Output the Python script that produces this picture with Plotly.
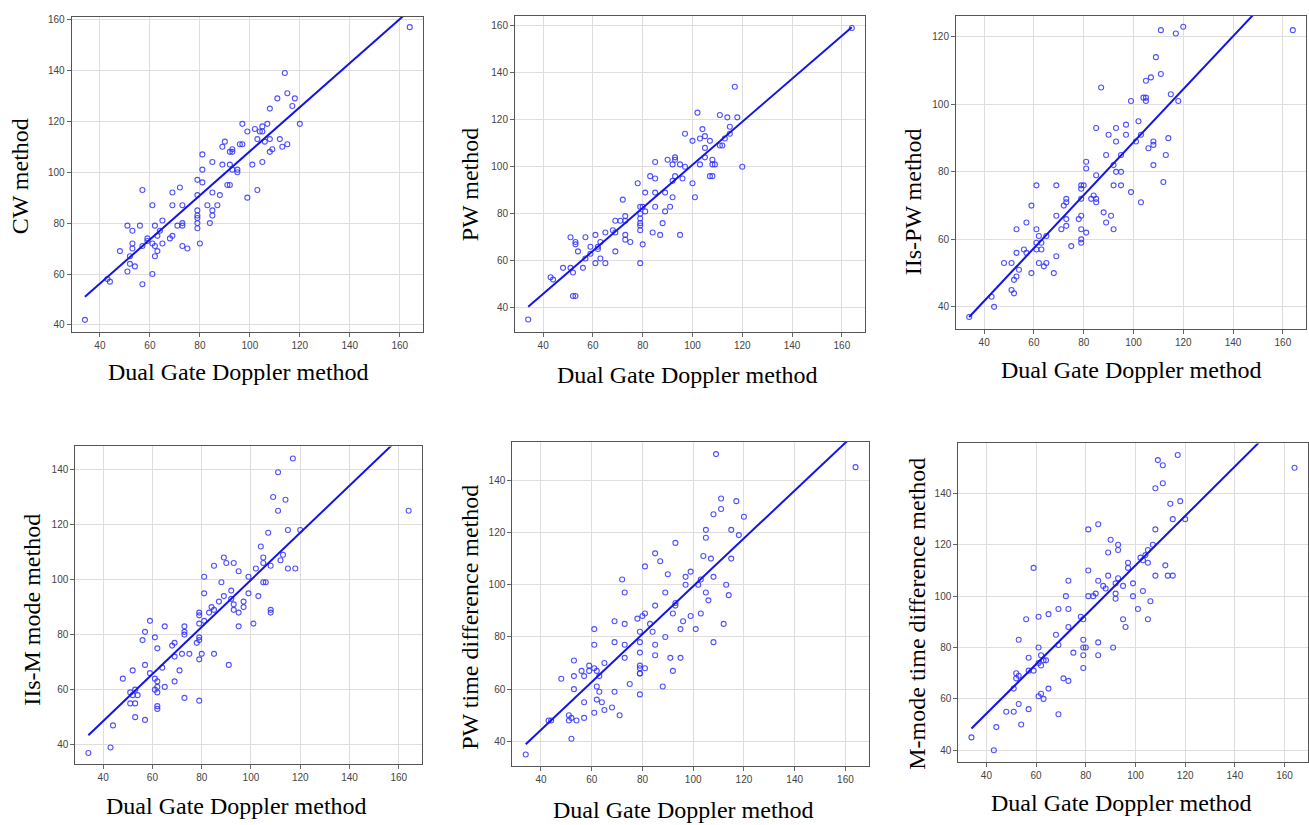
import plotly.graph_objects as go

W, H = 1309, 825

# ---------------- data ----------------
cw_x = [34,164,114,115,118,111,117,108,120,97,107,99,102,104,105,105,103,108,112,106,96,97,115,113,90,89,93,92,93,109,108,81,85,105,89,92,101,81,95,95,93,79,81,91,92,72,57,103,69,85,79,88,99,61,69,73,83,87,79,85,79,85,79,65,73,79,84,51,56,62,71,73,79,53,64,69,63,68,59,59,53,61,65,80,57,62,73,53,75,48,63,52,62,52,54,51,61,43,44,57]
cw_y = [42,157,139,131,129,129,126,125,119,119,119,116,117,116,118,116,113,113,113,112,111,111,111,110,112,110,109,108,108,109,108,107,104,104,103,103,103,101,101,100,101,97,96,95,95,94,93,93,92,92,91,91,90,87,87,87,87,87,85,85,83,83,82,81,80,80,80,79,79,79,79,79,78,77,77,75,75,74,74,73,72,72,72,72,71,71,71,70,70,69,69,67,67,64,63,61,60,58,57,56]

pw_x = [34,164,117,102,111,114,118,115,97,104,105,103,107,100,113,115,111,112,105,105,93,93,90,85,92,95,103,108,108,109,97,120,83,85,93,96,107,108,92,78,100,81,85,89,92,101,72,79,80,85,91,81,89,79,73,79,69,71,73,79,88,79,79,68,69,65,84,87,95,73,61,51,57,73,75,53,63,53,80,59,62,62,54,69,59,63,57,61,65,79,48,56,51,52,43,44,52,53]
pw_y = [35,159,134,123,122,121,121,117,114,116,113,112,111,111,112,114,109,109,108,104,104,103,103,102,101,101,101,103,101,101,100,100,96,95,96,95,96,96,94,93,93,89,89,89,87,87,86,83,83,83,83,81,81,80,79,78,77,77,77,76,76,75,73,73,72,72,72,71,71,71,71,70,70,69,68,68,68,67,67,66,65,66,64,64,63,61,61,59,59,59,57,57,57,55,53,52,45,45]

iispw_x = [34,164,111,120,117,109,111,107,105,87,115,104,105,105,99,118,102,97,85,93,90,97,103,114,93,101,108,108,106,89,95,113,81,108,92,81,93,95,85,61,69,79,80,92,95,79,112,99,84,73,83,85,79,85,73,103,59,72,88,69,79,91,78,73,57,89,73,53,61,71,79,92,81,62,65,79,79,61,63,75,56,61,63,57,53,69,48,51,62,65,64,54,53,52,59,68,51,52,43,44]
iispw_y = [37,122,122,123,121,114,109,108,107,105,103,102,102,101,101,101,95,94,93,93,91,91,91,90,89,89,89,88,87,85,85,85,83,82,82,81,80,80,79,76,76,76,76,76,76,75,77,74,73,72,72,72,72,71,71,71,70,70,68,67,67,67,66,66,65,65,64,63,63,63,63,63,62,61,61,60,59,59,59,58,57,57,57,56,56,55,53,53,53,53,52,51,49,48,50,50,45,44,43,40]

iism_x = [34,164,117,111,109,114,111,115,120,107,104,105,113,105,108,112,102,115,118,89,90,93,85,95,81,99,88,105,106,81,99,92,89,103,92,87,97,93,97,84,85,93,108,83,79,95,108,79,81,59,79,101,65,73,95,57,73,73,61,79,79,56,78,69,68,62,72,75,80,85,69,79,57,91,64,71,52,59,61,48,62,69,65,62,61,53,62,51,52,54,73,79,51,53,62,62,53,57,44,43]
iism_y = [37,125,144,139,130,129,125,118,118,117,112,108,109,106,105,107,104,104,104,108,106,106,105,103,101,101,99,99,99,95,95,96,94,94,93,92,92,91,90,90,89,89,89,88,88,88,88,87,85,85,84,84,83,83,83,81,81,80,79,79,78,78,77,77,76,75,73,73,73,73,72,71,69,69,68,67,67,66,64,64,63,63,61,61,60,60,59,59,58,58,57,56,55,55,54,53,50,49,47,39]

pwtd_x = [34,164,109,111,111,117,108,120,105,115,118,105,93,85,104,107,115,87,81,90,99,97,108,72,103,97,102,113,73,89,105,114,106,93,93,85,92,103,81,80,99,78,69,96,73,83,112,95,101,61,79,84,89,69,79,108,61,73,85,79,85,73,91,95,53,65,59,79,61,81,79,56,59,62,92,79,79,53,57,63,48,75,62,88,53,63,69,79,62,64,57,68,65,61,51,71,52,57,51,54,43,44,52]
pwtd_y = [35,145,150,133,129,132,127,126,121,121,119,118,116,112,111,110,110,109,107,104,105,103,103,102,102,100,100,100,97,97,97,96,94,93,92,92,89,89,89,88,88,87,86,86,85,85,85,83,83,83,82,82,80,78,78,78,77,77,77,74,73,72,72,72,71,70,69,69,68,68,68,67,67,67,67,66,66,65,65,65,64,62,61,61,60,59,59,58,56,55,55,53,52,51,50,50,49,49,48,48,48,48,41]

mmtd_x = [34,164,117,109,111,111,108,114,118,115,120,85,81,108,90,93,107,93,105,89,104,102,103,97,105,112,59,81,97,89,108,113,115,93,73,85,92,99,87,95,88,103,92,84,83,81,72,99,92,106,69,73,101,61,65,78,79,56,95,105,73,96,68,53,79,85,69,61,79,80,91,75,79,85,62,57,63,64,61,62,79,57,59,52,53,52,71,73,51,65,61,62,63,53,48,51,57,69,54,44,43]
mmtd_y = [45,150,155,153,151,144,142,136,137,130,130,128,126,126,122,120,120,118,118,117,116,115,114,113,113,112,111,110,111,108,108,108,108,107,106,106,105,105,104,104,103,102,101,101,100,100,100,100,99,98,95,95,95,92,93,92,91,91,91,91,88,88,85,83,83,82,81,80,80,80,80,78,77,77,77,76,75,75,74,73,72,71,71,70,69,68,68,67,64,64,61,62,60,58,55,55,56,54,50,49,40]

# fitted line (intercept, slope) as drawn in the picture
fit_intercept = [21.6, 9.3, 10.3, 14.3, 7.8, 15.7]
fit_slope = [0.866, 0.915, 0.785, 0.856, 0.916, 0.963]

y_titles = ["CW method", "PW method", "IIs-PW method",
            "IIs-M mode method", "PW time difference method", "M-mode time difference method"]
x_title = "Dual Gate Doppler method"
x_ticks = [40, 60, 80, 100, 120, 140, 160]
y_tick_sets = [[40, 60, 80, 100, 120, 140, 160], [40, 60, 80, 100, 120, 140, 160],
               [40, 60, 80, 100, 120], [40, 60, 80, 100, 120, 140],
               [40, 60, 80, 100, 120, 140], [40, 60, 80, 100, 120, 140]]
y_ranges = [[37.3, 161], [29.8, 164], [33.4, 126.3], [32.9, 148.4], [30.5, 154.6], [35.6, 159.5]]
x_range = [28.7, 169.3]

xs = [cw_x, pw_x, iispw_x, iism_x, pwtd_x, mmtd_x]
ys = [cw_y, pw_y, iispw_y, iism_y, pwtd_y, mmtd_y]

# ---------------- layout (pixel boxes) ----------------
boxes = [(71.7, 423, 14, 330), (515, 865, 13.3, 330), (956, 1306, 12.7, 327.3),
         (75.3, 421.7, 445, 764), (512.3, 869, 440.7, 766), (958.3, 1307.7, 442, 761.3)]
xtitle_pos = [(238, 370), (687, 373), (1131, 368), (236, 806), (683, 810), (1121, 803)]
ytitle_pos = [(20, 174), (470, 182), (913, 200), (32, 609), (470, 616), (917, 613)]

fig = go.Figure()
annotations = []
layout_axes = {}
for i in range(6):
    n = "" if i == 0 else str(i + 1)
    xa, ya = "x" + n, "y" + n
    x0, x1, t0, t1 = boxes[i]
    fig.add_trace(go.Scatter(
        x=xs[i], y=ys[i], mode="markers", xaxis=xa, yaxis=ya,
        marker=dict(symbol="circle-open", size=5, color="rgba(50,50,255,0.85)",
                    line=dict(width=1.1)),
        showlegend=False, hoverinfo="x+y"))
    lx = [min(xs[i]), max(xs[i])]
    ly = [fit_intercept[i] + fit_slope[i] * v for v in lx]
    fig.add_trace(go.Scatter(
        x=lx, y=ly, mode="lines", xaxis=xa, yaxis=ya,
        line=dict(color="#1414e6", width=2), showlegend=False, hoverinfo="skip"))
    common = dict(showline=True, linecolor="#555", linewidth=1, mirror=True,
                  showgrid=True, gridcolor="#dedede", gridwidth=1, zeroline=False,
                  ticks="outside", ticklen=4, tickcolor="#666",
                  tickfont=dict(family="Liberation Sans, Arial", size=10, color="#444"))
    layout_axes["xaxis" + n] = dict(domain=[x0 / W, x1 / W], range=x_range,
                                   tickvals=x_ticks, anchor=ya, **common)
    layout_axes["yaxis" + n] = dict(domain=[1 - t1 / H, 1 - t0 / H], range=y_ranges[i],
                                   tickvals=y_tick_sets[i], anchor=xa, **common)
    annotations.append(dict(text=x_title, x=xtitle_pos[i][0] / W, y=1 - xtitle_pos[i][1] / H,
                            xref="paper", yref="paper", showarrow=False,
                            xanchor="center", yanchor="middle",
                            font=dict(family="Liberation Serif, Times New Roman", size=24, color="#000")))
    annotations.append(dict(text=y_titles[i], x=ytitle_pos[i][0] / W, y=1 - ytitle_pos[i][1] / H,
                            xref="paper", yref="paper", showarrow=False, textangle=-90,
                            xanchor="center", yanchor="middle",
                            font=dict(family="Liberation Serif, Times New Roman", size=24, color="#000")))

fig.update_layout(width=W, height=H, margin=dict(l=0, r=0, t=0, b=0),
                  paper_bgcolor="white", plot_bgcolor="white",
                  annotations=annotations, **layout_axes)
fig.write_html("out.html", config={"displayModeBar": False},
               post_script="document.body.style.margin='0';document.body.style.overflow='hidden';")
